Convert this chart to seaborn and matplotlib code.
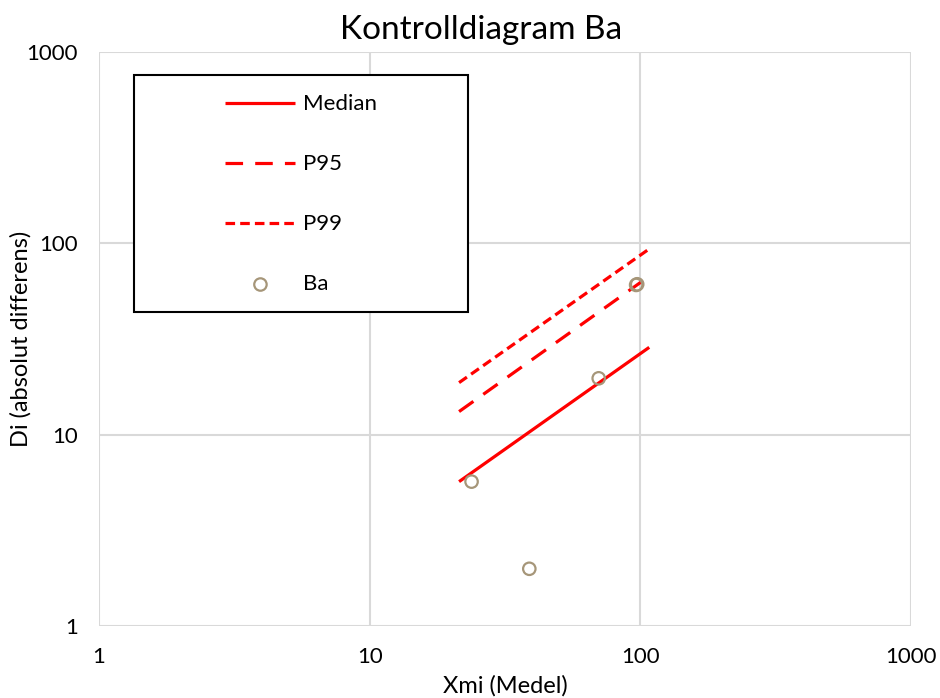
import numpy as np
import pandas as pd
import matplotlib
matplotlib.use("Agg")
import matplotlib.pyplot as plt
from matplotlib.patches import Rectangle
from matplotlib.ticker import FixedLocator, FixedFormatter, NullLocator
import seaborn as sns

# ---- data ----
line_x = [21.4, 107.9]
median_y = [5.68, 28.6]
p95_y = [13.2, 67.3]
p99_y = [18.7, 93.5]
ba_x = [23.8, 38.9, 70.2, 96.5, 97.4]
ba_y = [5.68, 1.99, 19.7, 60.6, 61.1]
tick_vals = [1, 10, 100, 1000]
tick_labels = ["1", "10", "100", "1000"]

sns.set_theme(style="white")
plt.rcParams['font.family'] = ['Lato', 'DejaVu Sans']
plt.rcParams['text.color'] = 'black'

fig = plt.figure(figsize=(9.4, 6.98), dpi=100)
ax = fig.add_axes([0.1053, 0.1032, 0.8638, 0.8223])

red = "#ff0000"
lw = 2.3
sns.lineplot(x=line_x, y=median_y, ax=ax, color=red, linewidth=lw,
             estimator=None, label="Median", solid_capstyle="butt")
sns.lineplot(x=line_x, y=p95_y, ax=ax, color=red, linewidth=lw,
             estimator=None, label="P95", linestyle=(0, (5.5, 3.8)),
             dash_capstyle="butt")
sns.lineplot(x=line_x, y=p99_y, ax=ax, color=red, linewidth=lw,
             estimator=None, label="P99", linestyle=(0, (3.0, 1.6)),
             dash_capstyle="butt")
sns.scatterplot(x=ba_x, y=ba_y, ax=ax, s=80, linewidth=1.6,
                color="#a69679", label="Ba", zorder=5)
pts = ax.collections[-1]
pts.set_facecolor("none")
pts.set_edgecolor("#a69679")

ax.set_xscale("log")
ax.set_yscale("log")
ax.set_xlim(1, 1000)
ax.set_ylim(1, 1000)
for axis in (ax.xaxis, ax.yaxis):
    axis.set_major_locator(FixedLocator(tick_vals))
    axis.set_major_formatter(FixedFormatter(tick_labels))
    axis.set_minor_locator(NullLocator())

ax.grid(True, which="major", color="#d9d9d9", linewidth=1.5)
for sp in ax.spines.values():
    sp.set_visible(False)
ax.tick_params(axis="both", length=0, labelsize=16, colors="black")
ax.tick_params(axis="x", pad=15)
ax.tick_params(axis="y", pad=15)

ax.set_title("Kontrolldiagram Ba", fontsize=24, color="black", pad=9.6, x=0.470)
ax.set_xlabel("Xmi (Medel)", fontsize=17, color="black", labelpad=0)
ax.set_ylabel("Di (absolut differens)", fontsize=17, color="black", labelpad=0)
ax.yaxis.set_label_coords(-0.0825, 0.5)
ax.xaxis.set_label_coords(0.5, -0.0854)

# legend box
ax.add_patch(Rectangle((0.0431, 0.547), 0.4113, 0.413, transform=ax.transAxes,
                       facecolor="white", edgecolor="black", linewidth=1.5,
                       zorder=6))
leg = ax.legend(loc="center", bbox_to_anchor=(0.2488, 0.752), frameon=False,
                fontsize=16, handlelength=3.15, handletextpad=0.32,
                labelspacing=1.8, scatterpoints=1, labelcolor="black")
leg.set_zorder(7)

fig.savefig("out.png", dpi=100, facecolor="white")
